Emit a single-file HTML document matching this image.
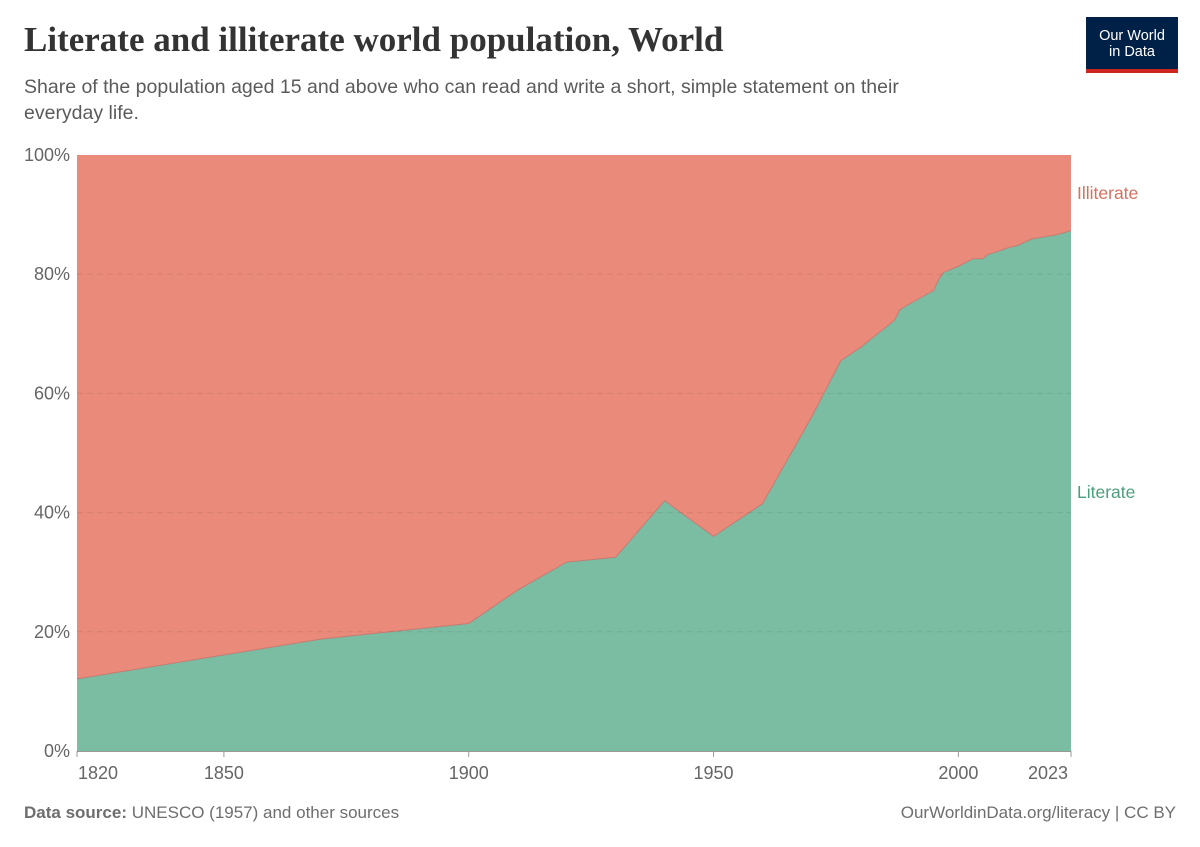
<!DOCTYPE html>
<html><head><meta charset="utf-8"><style>
body{margin:0;background:#fff;width:1200px;height:847px;overflow:hidden;font-family:"Liberation Sans",sans-serif}
#title{position:absolute;left:24px;top:20px;font-family:"Liberation Serif",serif;font-weight:bold;font-size:35px;color:#333;margin:0}
#sub{position:absolute;left:24px;top:74px;font-size:19.5px;line-height:26px;color:#5b5b5b;width:940px}
#logo{position:absolute;left:1086px;top:17px;width:92px;height:56px;background:#002147;color:#fff;font-size:14.5px;line-height:16px;text-align:center;box-sizing:border-box;padding-top:11px;border-bottom:4px solid #ce261e}
.foot{position:absolute;top:803px;font-size:17px;color:#6e6e6e}
</style></head><body>
<h1 id="title">Literate and illiterate world population, World</h1>
<div id="sub">Share of the population aged 15 and above who can read and write a short, simple statement on their everyday life.</div>
<div id="logo">Our World<br>in Data</div>
<svg id="chart" width="1200" height="760" style="position:absolute;left:0;top:0;overflow:visible"></svg>
<div class="foot" style="left:24px"><b>Data source:</b> UNESCO (1957) and other sources</div>
<div class="foot" style="right:24px">OurWorldinData.org/literacy | CC BY</div>
<script>
const years=[1820,1870,1900,1910,1920,1930,1940,1950,1960,1970,1976,1980,1987,1988,1990,1995,1996,1997,1999,2000,2003,2005,2006,2008,2010,2012,2015,2020,2023];
const literate=[12.1,18.8,21.4,27,31.7,32.5,42,36,41.5,56,65.5,67.7,72.3,74,75,77.3,79.2,80.3,81,81.3,82.6,82.6,83.3,83.8,84.4,84.8,85.9,86.6,87.3];
const yTicks=[0,20,40,60,80,100];
const xTicks=[1820,1850,1900,1950,2000,2023];
const NS="http://www.w3.org/2000/svg";
const svgEl=document.getElementById('chart');
const xS=v=>77+(v-1820)*(994/203);
const yS=v=>751-v*5.96;
function mk(t,a){const e=document.createElementNS(NS,t);for(const k in a)e.setAttribute(k,a[k]);svgEl.appendChild(e);return e;}
const pts=years.map((yr,i)=>`${xS(yr)},${yS(literate[i])}`);
const ill=mk('path',{d:`M${xS(1820)},${yS(100)} L${xS(2023)},${yS(100)} L${pts.slice().reverse().join(' L')} Z`,fill:'#e98a7a'});


const lit=mk('path',{d:`M${xS(1820)},${yS(0)} L${pts.join(' L')} L${xS(2023)},${yS(0)} Z`,fill:'#7bbda2'});


const bl=mk('path',{d:'M'+pts.join(' L'),fill:'none',stroke:'#c7706a','stroke-width':1,opacity:0.8});


yTicks.forEach(v=>{
 if(v>0&&v<100){const g=mk('line',{x1:77,x2:1071,y1:yS(v),y2:yS(v),stroke:'#000','stroke-opacity':0.08,'stroke-dasharray':'6,4'});
 
 }
 const t=mk('text',{x:70,y:yS(v)+6,'text-anchor':'end','font-size':18,fill:'#666','font-family':'Liberation Sans'});
 t.textContent=v+'%';
 
 
});
const ax=mk('line',{x1:77,x2:1071,y1:751.5,y2:751.5,stroke:'#999'});


xTicks.forEach((yr,i)=>{
 const tk=mk('line',{x1:xS(yr),x2:xS(yr),y1:751,y2:757,stroke:'#999'});
 
 
 let px=xS(yr);
 if(i===0)px+=21; else if(i===xTicks.length-1)px-=23;
 const t=mk('text',{x:px,y:779,'text-anchor':'middle','font-size':18,fill:'#666','font-family':'Liberation Sans'});
 t.textContent=yr;
 
 
});
const l1=mk('text',{x:1077,y:199,'font-size':17.5,fill:'#d5705f','font-family':'Liberation Sans'});
l1.textContent='Illiterate';


const l2=mk('text',{x:1077,y:498,'font-size':17.5,fill:'#4c9f7d','font-family':'Liberation Sans'});
l2.textContent='Literate';


</script>
</body></html>
